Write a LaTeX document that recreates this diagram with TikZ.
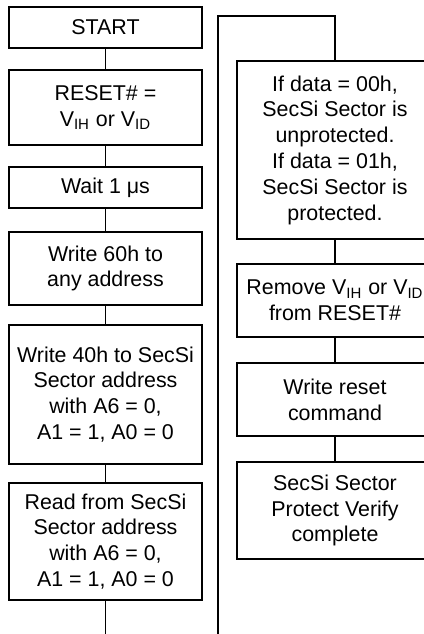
\documentclass[tikz,border=0pt]{standalone}
\usepackage{fontspec}
\setmainfont{Liberation Sans}
\usepackage{tikz}

\begin{document}
\begin{tikzpicture}[x=0.5pt,y=-0.5pt,line width=0.6pt,
  every node/.style={font=\fontsize{10.7}{12.9}\selectfont},
  stepbox/.style={draw,align=center,minimum width=96.5pt,inner sep=2pt},
  rbox/.style={stepbox,minimum width=98pt}]
  \useasboundingbox (0,0) rectangle (424,634);
  \clip (0,0) rectangle (424,634);
  % left column
  \node[stepbox,minimum height=20.5pt] (start) at (105.5,27.5) {START};
  \node[stepbox,minimum height=37.5pt] (reset) at (105.5,107.5)
    {RESET\# =\\V\textsubscript{IH} or V\textsubscript{ID}};
  \node[stepbox,minimum height=20.5pt] (wait) at (105.5,187.5) {Wait 1 μs};
  \node[stepbox,minimum height=36.5pt] (wsixty) at (105.5,268.5)
    {Write 60h to\\any address};
  \node[stepbox,minimum height=69.5pt] (wforty) at (105.5,394.5)
    {Write 40h to SecSi\\Sector address\\with A6 = 0,\\A1 = 1, A0 = 0};
  \node[stepbox,minimum height=58.5pt] (read) at (105.5,541.5)
    {Read from SecSi\\Sector address\\with A6 = 0,\\A1 = 1, A0 = 0};
  \coordinate (lend) at (105.5,640);
  % right column
  \node[rbox,minimum height=89pt] (check) at (335,150)
    {If data = 00h,\\SecSi Sector is\\unprotected.\\If data = 01h,\\SecSi Sector is\\protected.};
  \node[rbox,minimum height=36.5pt] (remove) at (335,300.5)
    {Remove V\textsubscript{IH} or V\textsubscript{ID}\\from RESET\#};
  \node[rbox,minimum height=36.5pt] (wreset) at (335,399.5)
    {Write reset\\command};
  \node[rbox,minimum height=48.5pt] (done) at (335,510.5)
    {SecSi Sector\\Protect Verify\\complete};
  \coordinate (rend) at (218,640);
  \coordinate (rup) at (218,16);
  \coordinate (rover) at (335,16);
  % connectors
  \draw (start) -- (reset);
  \draw (reset) -- (wait);
  \draw (wait) -- (wsixty);
  \draw (wsixty) -- (wforty);
  \draw (wforty) -- (read);
  \draw (read) -- (lend);
  \draw (rend) -- (rup) -- (rover) -- (check);
  \draw (check) -- (remove);
  \draw (remove) -- (wreset);
  \draw (wreset) -- (done);
\end{tikzpicture}
\end{document}
